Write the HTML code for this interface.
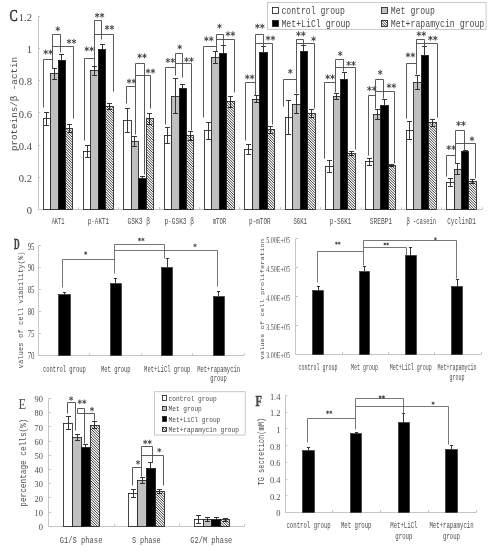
<!DOCTYPE html>
<html><head><meta charset="utf-8"><title>figure</title>
<style>html,body{margin:0;padding:0;background:#fff;}body{width:493px;height:550px;overflow:hidden;position:relative;}svg{display:block;font-family:"Liberation Mono", monospace;position:absolute;left:0;top:0;}#base{filter:blur(0.35px);}text{fill:#4c4c4c;}</style>
</head><body>
<svg id="base" width="493" height="550" viewBox="0 0 493 550">
<rect width="493" height="550" fill="#fff"/>
<g id="panelC">
<path d="M38.5 16.5L38.5 209.4" stroke="#c6c6c6" stroke-width="1"/>
<path d="M38 209.5L482.2 209.5" stroke="#c6c6c6" stroke-width="1"/>
<path d="M38 209.5L40.2 209.5" stroke="#c6c6c6" stroke-width="1"/>
<text font-size="10.5" textLength="5.3" lengthAdjust="spacingAndGlyphs" font-family='"Liberation Serif", serif' x="26.7" y="213.97">0</text>
<path d="M38 177.5L40.2 177.5" stroke="#c6c6c6" stroke-width="1"/>
<text font-size="10.5" textLength="13.25" lengthAdjust="spacingAndGlyphs" font-family='"Liberation Serif", serif' x="18.75" y="181.81">0.2</text>
<path d="M38 145.5L40.2 145.5" stroke="#c6c6c6" stroke-width="1"/>
<text font-size="10.5" textLength="13.25" lengthAdjust="spacingAndGlyphs" font-family='"Liberation Serif", serif' x="18.75" y="149.67">0.4</text>
<path d="M38 112.5L40.2 112.5" stroke="#c6c6c6" stroke-width="1"/>
<text font-size="10.5" textLength="13.25" lengthAdjust="spacingAndGlyphs" font-family='"Liberation Serif", serif' x="18.75" y="117.52">0.6</text>
<path d="M38 80.5L40.2 80.5" stroke="#c6c6c6" stroke-width="1"/>
<text font-size="10.5" textLength="13.25" lengthAdjust="spacingAndGlyphs" font-family='"Liberation Serif", serif' x="18.75" y="85.37">0.8</text>
<path d="M38 48.5L40.2 48.5" stroke="#c6c6c6" stroke-width="1"/>
<text font-size="10.5" textLength="5.3" lengthAdjust="spacingAndGlyphs" font-family='"Liberation Serif", serif' x="26.7" y="53.22">1</text>
<path d="M38 16.5L40.2 16.5" stroke="#c6c6c6" stroke-width="1"/>
<text font-size="10.5" textLength="13.25" lengthAdjust="spacingAndGlyphs" font-family='"Liberation Serif", serif' x="18.75" y="21.07">1.2</text>
<path d="M38.5 209.4L38.5 207.2" stroke="#c6c6c6" stroke-width="1"/>
<path d="M78.5 209.4L78.5 207.2" stroke="#c6c6c6" stroke-width="1"/>
<path d="M118.5 209.4L118.5 207.2" stroke="#c6c6c6" stroke-width="1"/>
<path d="M159.5 209.4L159.5 207.2" stroke="#c6c6c6" stroke-width="1"/>
<path d="M199.5 209.4L199.5 207.2" stroke="#c6c6c6" stroke-width="1"/>
<path d="M239.5 209.4L239.5 207.2" stroke="#c6c6c6" stroke-width="1"/>
<path d="M280.5 209.4L280.5 207.2" stroke="#c6c6c6" stroke-width="1"/>
<path d="M320.5 209.4L320.5 207.2" stroke="#c6c6c6" stroke-width="1"/>
<path d="M361.5 209.4L361.5 207.2" stroke="#c6c6c6" stroke-width="1"/>
<path d="M401.5 209.4L401.5 207.2" stroke="#c6c6c6" stroke-width="1"/>
<path d="M441.5 209.4L441.5 207.2" stroke="#c6c6c6" stroke-width="1"/>
<path d="M482.5 209.4L482.5 207.2" stroke="#c6c6c6" stroke-width="1"/>
<text font-size="16.5" textLength="8.2" lengthAdjust="spacingAndGlyphs" fill="#222" font-family='"Liberation Serif", serif' stroke="#222" stroke-width="0.55" x="9.5" y="20.75">C</text>
<text font-size="9.5" textLength="94" lengthAdjust="spacingAndGlyphs" fill="#5e5e5e" transform="translate(17.2 104) rotate(-90)" x="-47" y="0">proteins/&#946; -actin</text>
<rect x="43.5" y="118.5" width="7" height="91" fill="#fff" stroke="#1a1a1a" stroke-width="0.8"/>
<rect x="50.5" y="73.5" width="8" height="136" fill="#c0c0c0" stroke="#1a1a1a" stroke-width="0.8"/>
<rect x="58.5" y="60.5" width="7" height="149" fill="#000" stroke="#1a1a1a" stroke-width="0.8"/>
<rect x="65.5" y="128.5" width="7" height="81" fill="#fff"/>
<rect x="65.5" y="128.5" width="7" height="81" fill="none" stroke="#1a1a1a" stroke-width="0.8"/>
<path d="M46.5 112.5L46.5 125.5M44 112.5L49 112.5M44 125.5L49 125.5" stroke="#222" stroke-width="0.9" fill="none"/>
<path d="M54.5 68.5L54.5 79.5M52 68.5L57 68.5M52 79.5L57 79.5" stroke="#222" stroke-width="0.9" fill="none"/>
<path d="M61.5 54.5L61.5 60.3M59 54.5L64 54.5" stroke="#222" stroke-width="0.9" fill="none"/>
<path d="M69.5 124.5L69.5 132.5M67 124.5L72 124.5M67 132.5L72 132.5" stroke="#222" stroke-width="0.9" fill="none"/>
<text font-size="9" textLength="12.9" lengthAdjust="spacingAndGlyphs" fill="#686868" x="51.65" y="224.17">AKT1</text>
<rect x="83.5" y="151.5" width="7" height="58" fill="#fff" stroke="#1a1a1a" stroke-width="0.8"/>
<rect x="90.5" y="70.5" width="8" height="139" fill="#c0c0c0" stroke="#1a1a1a" stroke-width="0.8"/>
<rect x="98.5" y="49.5" width="7" height="160" fill="#000" stroke="#1a1a1a" stroke-width="0.8"/>
<rect x="105.5" y="106.5" width="8" height="103" fill="#fff"/>
<rect x="105.5" y="106.5" width="8" height="103" fill="none" stroke="#1a1a1a" stroke-width="0.8"/>
<path d="M87.5 145.5L87.5 157.5M85 145.5L90 145.5M85 157.5L90 157.5" stroke="#222" stroke-width="0.9" fill="none"/>
<path d="M94.5 66.5L94.5 75.5M92 66.5L97 66.5M92 75.5L97 75.5" stroke="#222" stroke-width="0.9" fill="none"/>
<path d="M102.5 44.5L102.5 49.4M100 44.5L105 44.5" stroke="#222" stroke-width="0.9" fill="none"/>
<path d="M109.5 103.5L109.5 109.5M107 103.5L112 103.5M107 109.5L112 109.5" stroke="#222" stroke-width="0.9" fill="none"/>
<text font-size="9" textLength="21.5" lengthAdjust="spacingAndGlyphs" fill="#686868" x="87.7" y="224.17">p-AKT1</text>
<rect x="123.5" y="120.5" width="8" height="89" fill="#fff" stroke="#1a1a1a" stroke-width="0.8"/>
<rect x="131.5" y="141.5" width="7" height="68" fill="#c0c0c0" stroke="#1a1a1a" stroke-width="0.8"/>
<rect x="138.5" y="178.5" width="8" height="31" fill="#000" stroke="#1a1a1a" stroke-width="0.8"/>
<rect x="146.5" y="118.5" width="7" height="91" fill="#fff"/>
<rect x="146.5" y="118.5" width="7" height="91" fill="none" stroke="#1a1a1a" stroke-width="0.8"/>
<path d="M127.5 108.5L127.5 132.5M125 108.5L130 108.5M125 132.5L130 132.5" stroke="#222" stroke-width="0.9" fill="none"/>
<path d="M134.5 136.5L134.5 146.5M132 136.5L137 136.5M132 146.5L137 146.5" stroke="#222" stroke-width="0.9" fill="none"/>
<path d="M142.5 176.5L142.5 178M140 176.5L145 176.5" stroke="#222" stroke-width="0.9" fill="none"/>
<path d="M149.5 113.5L149.5 124.5M147 113.5L152 113.5M147 124.5L152 124.5" stroke="#222" stroke-width="0.9" fill="none"/>
<text font-size="9" textLength="22.5" lengthAdjust="spacingAndGlyphs" fill="#686868" x="127.55" y="224.17">GSK3 &#946;</text>
<rect x="164.5" y="135.5" width="7" height="74" fill="#fff" stroke="#1a1a1a" stroke-width="0.8"/>
<rect x="171.5" y="96.5" width="8" height="113" fill="#c0c0c0" stroke="#1a1a1a" stroke-width="0.8"/>
<rect x="179.5" y="88.5" width="7" height="121" fill="#000" stroke="#1a1a1a" stroke-width="0.8"/>
<rect x="186.5" y="135.5" width="7" height="74" fill="#fff"/>
<rect x="186.5" y="135.5" width="7" height="74" fill="none" stroke="#1a1a1a" stroke-width="0.8"/>
<path d="M167.5 127.5L167.5 143.5M165 127.5L170 127.5M165 143.5L170 143.5" stroke="#222" stroke-width="0.9" fill="none"/>
<path d="M175.5 78.5L175.5 113.5M173 78.5L178 78.5M173 113.5L178 113.5" stroke="#222" stroke-width="0.9" fill="none"/>
<path d="M182.5 84.5L182.5 88.7M180 84.5L185 84.5" stroke="#222" stroke-width="0.9" fill="none"/>
<path d="M190.5 131.5L190.5 140.5M188 131.5L193 131.5M188 140.5L193 140.5" stroke="#222" stroke-width="0.9" fill="none"/>
<text font-size="9" textLength="29.5" lengthAdjust="spacingAndGlyphs" fill="#686868" x="164.4" y="224.17">p-GSK3 &#946;</text>
<rect x="204.5" y="130.5" width="7" height="79" fill="#fff" stroke="#1a1a1a" stroke-width="0.8"/>
<rect x="211.5" y="57.5" width="8" height="152" fill="#c0c0c0" stroke="#1a1a1a" stroke-width="0.8"/>
<rect x="219.5" y="53.5" width="7" height="156" fill="#000" stroke="#1a1a1a" stroke-width="0.8"/>
<rect x="226.5" y="101.5" width="8" height="108" fill="#fff"/>
<rect x="226.5" y="101.5" width="8" height="108" fill="none" stroke="#1a1a1a" stroke-width="0.8"/>
<path d="M208.5 122.5L208.5 139.5M206 122.5L211 122.5M206 139.5L211 139.5" stroke="#222" stroke-width="0.9" fill="none"/>
<path d="M215.5 51.5L215.5 63.5M213 51.5L218 51.5M213 63.5L218 63.5" stroke="#222" stroke-width="0.9" fill="none"/>
<path d="M223.5 45.5L223.5 53.2M221 45.5L226 45.5" stroke="#222" stroke-width="0.9" fill="none"/>
<path d="M230.5 96.5L230.5 107.5M228 96.5L233 96.5M228 107.5L233 107.5" stroke="#222" stroke-width="0.9" fill="none"/>
<text font-size="9" textLength="13.5" lengthAdjust="spacingAndGlyphs" fill="#686868" x="212.75" y="224.17">mTOR</text>
<rect x="244.5" y="149.5" width="8" height="60" fill="#fff" stroke="#1a1a1a" stroke-width="0.8"/>
<rect x="252.5" y="99.5" width="7" height="110" fill="#c0c0c0" stroke="#1a1a1a" stroke-width="0.8"/>
<rect x="259.5" y="52.5" width="8" height="157" fill="#000" stroke="#1a1a1a" stroke-width="0.8"/>
<rect x="267.5" y="129.5" width="7" height="80" fill="#fff"/>
<rect x="267.5" y="129.5" width="7" height="80" fill="none" stroke="#1a1a1a" stroke-width="0.8"/>
<path d="M248.5 144.5L248.5 154.5M246 144.5L251 144.5M246 154.5L251 154.5" stroke="#222" stroke-width="0.9" fill="none"/>
<path d="M256.5 95.5L256.5 102.5M254 95.5L259 95.5M254 102.5L259 102.5" stroke="#222" stroke-width="0.9" fill="none"/>
<path d="M263.5 46.5L263.5 52.5M261 46.5L266 46.5" stroke="#222" stroke-width="0.9" fill="none"/>
<path d="M270.5 126.5L270.5 133.5M268 126.5L273 126.5M268 133.5L273 133.5" stroke="#222" stroke-width="0.9" fill="none"/>
<text font-size="9" textLength="21.5" lengthAdjust="spacingAndGlyphs" fill="#686868" x="249.1" y="224.17">p-mTOR</text>
<rect x="285.5" y="117.5" width="7" height="92" fill="#fff" stroke="#1a1a1a" stroke-width="0.8"/>
<rect x="292.5" y="104.5" width="8" height="105" fill="#c0c0c0" stroke="#1a1a1a" stroke-width="0.8"/>
<rect x="300.5" y="51.5" width="7" height="158" fill="#000" stroke="#1a1a1a" stroke-width="0.8"/>
<rect x="307.5" y="113.5" width="8" height="96" fill="#fff"/>
<rect x="307.5" y="113.5" width="8" height="96" fill="none" stroke="#1a1a1a" stroke-width="0.8"/>
<path d="M288.5 100.5L288.5 134.5M286 100.5L291 100.5M286 134.5L291 134.5" stroke="#222" stroke-width="0.9" fill="none"/>
<path d="M296.5 94.5L296.5 113.5M294 94.5L299 94.5M294 113.5L299 113.5" stroke="#222" stroke-width="0.9" fill="none"/>
<path d="M303.5 45.5L303.5 51.5M301 45.5L306 45.5" stroke="#222" stroke-width="0.9" fill="none"/>
<path d="M311.5 109.5L311.5 117.5M309 109.5L314 109.5M309 117.5L314 117.5" stroke="#222" stroke-width="0.9" fill="none"/>
<text font-size="9" textLength="13.5" lengthAdjust="spacingAndGlyphs" fill="#686868" x="293.45" y="224.17">S6K1</text>
<rect x="325.5" y="166.5" width="8" height="43" fill="#fff" stroke="#1a1a1a" stroke-width="0.8"/>
<rect x="333.5" y="96.5" width="7" height="113" fill="#c0c0c0" stroke="#1a1a1a" stroke-width="0.8"/>
<rect x="340.5" y="79.5" width="7" height="130" fill="#000" stroke="#1a1a1a" stroke-width="0.8"/>
<rect x="347.5" y="153.5" width="8" height="56" fill="#fff"/>
<rect x="347.5" y="153.5" width="8" height="56" fill="none" stroke="#1a1a1a" stroke-width="0.8"/>
<path d="M329.5 160.5L329.5 172.5M327 160.5L332 160.5M327 172.5L332 172.5" stroke="#222" stroke-width="0.9" fill="none"/>
<path d="M336.5 93.5L336.5 99.5M334 93.5L339 93.5M334 99.5L339 99.5" stroke="#222" stroke-width="0.9" fill="none"/>
<path d="M344.5 72.5L344.5 79.4M342 72.5L347 72.5" stroke="#222" stroke-width="0.9" fill="none"/>
<path d="M351.5 151.5L351.5 155.5M349 151.5L354 151.5M349 155.5L354 155.5" stroke="#222" stroke-width="0.9" fill="none"/>
<text font-size="9" textLength="21.5" lengthAdjust="spacingAndGlyphs" fill="#686868" x="329.8" y="224.17">p-S6K1</text>
<rect x="365.5" y="161.5" width="8" height="48" fill="#fff" stroke="#1a1a1a" stroke-width="0.8"/>
<rect x="373.5" y="114.5" width="7" height="95" fill="#c0c0c0" stroke="#1a1a1a" stroke-width="0.8"/>
<rect x="380.5" y="105.5" width="8" height="104" fill="#000" stroke="#1a1a1a" stroke-width="0.8"/>
<rect x="388.5" y="165.5" width="7" height="44" fill="#fff"/>
<rect x="388.5" y="165.5" width="7" height="44" fill="none" stroke="#1a1a1a" stroke-width="0.8"/>
<path d="M369.5 158.5L369.5 165.5M367 158.5L372 158.5M367 165.5L372 165.5" stroke="#222" stroke-width="0.9" fill="none"/>
<path d="M377.5 109.5L377.5 119.5M375 109.5L380 109.5M375 119.5L380 119.5" stroke="#222" stroke-width="0.9" fill="none"/>
<path d="M384.5 99.5L384.5 105M382 99.5L387 99.5" stroke="#222" stroke-width="0.9" fill="none"/>
<path d="M391.5 164.5L391.5 166.5M389 164.5L394 164.5M389 166.5L394 166.5" stroke="#222" stroke-width="0.9" fill="none"/>
<text font-size="9" textLength="22.3" lengthAdjust="spacingAndGlyphs" fill="#686868" x="369.75" y="224.17">SREBP1</text>
<rect x="406.5" y="130.5" width="7" height="79" fill="#fff" stroke="#1a1a1a" stroke-width="0.8"/>
<rect x="413.5" y="82.5" width="8" height="127" fill="#c0c0c0" stroke="#1a1a1a" stroke-width="0.8"/>
<rect x="421.5" y="55.5" width="7" height="154" fill="#000" stroke="#1a1a1a" stroke-width="0.8"/>
<rect x="428.5" y="122.5" width="8" height="87" fill="#fff"/>
<rect x="428.5" y="122.5" width="8" height="87" fill="none" stroke="#1a1a1a" stroke-width="0.8"/>
<path d="M409.5 121.5L409.5 139.5M407 121.5L412 121.5M407 139.5L412 139.5" stroke="#222" stroke-width="0.9" fill="none"/>
<path d="M417.5 75.5L417.5 89.5M415 75.5L420 75.5M415 89.5L420 89.5" stroke="#222" stroke-width="0.9" fill="none"/>
<path d="M424.5 46.5L424.5 55.4M422 46.5L427 46.5" stroke="#222" stroke-width="0.9" fill="none"/>
<path d="M432.5 119.5L432.5 126.5M430 119.5L435 119.5M430 126.5L435 126.5" stroke="#222" stroke-width="0.9" fill="none"/>
<text font-size="9" textLength="29.7" lengthAdjust="spacingAndGlyphs" fill="#686868" x="406.4" y="224.17">&#946; -casein</text>
<rect x="446.5" y="182.5" width="8" height="27" fill="#fff" stroke="#1a1a1a" stroke-width="0.8"/>
<rect x="454.5" y="169.5" width="7" height="40" fill="#c0c0c0" stroke="#1a1a1a" stroke-width="0.8"/>
<rect x="461.5" y="151.5" width="7" height="58" fill="#000" stroke="#1a1a1a" stroke-width="0.8"/>
<rect x="468.5" y="181.5" width="8" height="28" fill="#fff"/>
<rect x="468.5" y="181.5" width="8" height="28" fill="none" stroke="#1a1a1a" stroke-width="0.8"/>
<path d="M450.5 178.5L450.5 186.5M448 178.5L453 178.5M448 186.5L453 186.5" stroke="#222" stroke-width="0.9" fill="none"/>
<path d="M457.5 163.5L457.5 174.5M455 163.5L460 163.5M455 174.5L460 174.5" stroke="#222" stroke-width="0.9" fill="none"/>
<path d="M465.5 150.5L465.5 151.8M463 150.5L468 150.5" stroke="#222" stroke-width="0.9" fill="none"/>
<path d="M472.5 179.5L472.5 183.5M470 179.5L475 179.5M470 183.5L475 183.5" stroke="#222" stroke-width="0.9" fill="none"/>
<text font-size="9" textLength="28.7" lengthAdjust="spacingAndGlyphs" fill="#686868" x="447.25" y="224.17">CyclinD1</text>
<path d="M43.5 107.5L43.5 59.5L52.5 59.5" stroke="#484848" stroke-width="0.9" fill="none"/>
<path d="M52.5 68.5L52.5 34.5L60.5 34.5L60.5 52.5" stroke="#484848" stroke-width="0.9" fill="none"/>
<path d="M52.5 46.5L73.5 46.5L73.5 118.5" stroke="#484848" stroke-width="0.9" fill="none"/>
<path d="M84.5 140.5L84.5 58.5L94.5 58.5" stroke="#484848" stroke-width="0.9" fill="none"/>
<path d="M94.5 66.5L94.5 20.5L101.5 20.5L101.5 39.5" stroke="#484848" stroke-width="0.9" fill="none"/>
<path d="M94.5 34.5L113.5 34.5L113.5 91.5" stroke="#484848" stroke-width="0.9" fill="none"/>
<path d="M126.5 103.5L126.5 86.5L135.5 86.5" stroke="#484848" stroke-width="0.9" fill="none"/>
<path d="M135.5 134.5L135.5 63.5L144.5 63.5L144.5 174.5" stroke="#484848" stroke-width="0.9" fill="none"/>
<path d="M135.5 75.5L150.5 75.5L150.5 108.5" stroke="#484848" stroke-width="0.9" fill="none"/>
<path d="M165.5 124.5L165.5 67.5L175.5 67.5" stroke="#484848" stroke-width="0.9" fill="none"/>
<path d="M175.5 75.5L175.5 53.5L182.5 53.5L182.5 77.5" stroke="#484848" stroke-width="0.9" fill="none"/>
<path d="M175.5 63.5L191.5 63.5L191.5 130.5" stroke="#484848" stroke-width="0.9" fill="none"/>
<path d="M203.5 117.5L203.5 46.5L216.5 46.5" stroke="#484848" stroke-width="0.9" fill="none"/>
<path d="M216.5 51.5L216.5 34.5L223.5 34.5L223.5 45.5" stroke="#484848" stroke-width="0.9" fill="none"/>
<path d="M216.5 39.5L234.5 39.5L234.5 92.5" stroke="#484848" stroke-width="0.9" fill="none"/>
<path d="M245.5 140.5L245.5 82.5L255.5 82.5" stroke="#484848" stroke-width="0.9" fill="none"/>
<path d="M255.5 95.5L255.5 34.5L263.5 34.5L263.5 46.5" stroke="#484848" stroke-width="0.9" fill="none"/>
<path d="M255.5 43.5L272.5 43.5L272.5 124.5" stroke="#484848" stroke-width="0.9" fill="none"/>
<path d="M283.5 106.5L283.5 79.5L296.5 79.5" stroke="#484848" stroke-width="0.9" fill="none"/>
<path d="M296.5 93.5L296.5 39.5L303.5 39.5L303.5 45.5" stroke="#484848" stroke-width="0.9" fill="none"/>
<path d="M296.5 43.5L314.5 43.5L314.5 108.5" stroke="#484848" stroke-width="0.9" fill="none"/>
<path d="M324.5 158.5L324.5 82.5L335.5 82.5" stroke="#484848" stroke-width="0.9" fill="none"/>
<path d="M335.5 92.5L335.5 59.5L343.5 59.5L343.5 71.5" stroke="#484848" stroke-width="0.9" fill="none"/>
<path d="M335.5 67.5L355.5 67.5L355.5 149.5" stroke="#484848" stroke-width="0.9" fill="none"/>
<path d="M368.5 155.5L368.5 95.5L375.5 95.5" stroke="#484848" stroke-width="0.9" fill="none"/>
<path d="M375.5 108.5L375.5 79.5L383.5 79.5L383.5 98.5" stroke="#484848" stroke-width="0.9" fill="none"/>
<path d="M375.5 91.5L394.5 91.5L394.5 163.5" stroke="#484848" stroke-width="0.9" fill="none"/>
<path d="M406.5 118.5L406.5 63.5L416.5 63.5" stroke="#484848" stroke-width="0.9" fill="none"/>
<path d="M416.5 74.5L416.5 39.5L424.5 39.5L424.5 46.5" stroke="#484848" stroke-width="0.9" fill="none"/>
<path d="M416.5 43.5L437.5 43.5L437.5 117.5" stroke="#484848" stroke-width="0.9" fill="none"/>
<path d="M446.5 176.5L446.5 155.5L455.5 155.5" stroke="#484848" stroke-width="0.9" fill="none"/>
<path d="M455.5 163.5L455.5 130.5L464.5 130.5L464.5 150.5" stroke="#484848" stroke-width="0.9" fill="none"/>
<path d="M455.5 143.5L475.5 143.5L475.5 178.5" stroke="#484848" stroke-width="0.9" fill="none"/>
<path d="M57.8 26.35L57.8 31.25M55.68 27.57L59.92 30.03M59.92 27.57L55.68 30.03" stroke="#464646" stroke-width="0.98" fill="none"/>
<path d="M69.05 38.95L69.05 43.85M66.93 40.17L71.17 42.62M71.17 40.17L66.93 42.62M73.95 38.95L73.95 43.85M71.83 40.17L76.07 42.62M76.07 40.17L71.83 42.62" stroke="#464646" stroke-width="0.98" fill="none"/>
<path d="M45.75 49.65L45.75 54.55M43.63 50.88L47.87 53.33M47.87 50.88L43.63 53.33M50.65 49.65L50.65 54.55M48.53 50.88L52.77 53.33M52.77 50.88L48.53 53.33" stroke="#464646" stroke-width="0.98" fill="none"/>
<path d="M97.15 12.85L97.15 17.75M95.03 14.07L99.27 16.52M99.27 14.07L95.03 16.52M102.05 12.85L102.05 17.75M99.93 14.07L104.17 16.52M104.17 14.07L99.93 16.52" stroke="#464646" stroke-width="0.98" fill="none"/>
<path d="M107.05 25.05L107.05 29.95M104.93 26.27L109.17 28.73M109.17 26.27L104.93 28.73M111.95 25.05L111.95 29.95M109.83 26.27L114.07 28.73M114.07 26.27L109.83 28.73" stroke="#464646" stroke-width="0.98" fill="none"/>
<path d="M86.75 46.55L86.75 51.45M84.63 47.77L88.87 50.23M88.87 47.77L84.63 50.23M91.65 46.55L91.65 51.45M89.53 47.77L93.77 50.23M93.77 47.77L89.53 50.23" stroke="#464646" stroke-width="0.98" fill="none"/>
<path d="M139.65 53.45L139.65 58.35M137.53 54.67L141.77 57.12M141.77 54.67L137.53 57.12M144.55 53.45L144.55 58.35M142.43 54.67L146.67 57.12M146.67 54.67L142.43 57.12" stroke="#464646" stroke-width="0.98" fill="none"/>
<path d="M148.05 68.65L148.05 73.55M145.93 69.88L150.17 72.32M150.17 69.88L145.93 72.32M152.95 68.65L152.95 73.55M150.83 69.88L155.07 72.32M155.07 69.88L150.83 72.32" stroke="#464646" stroke-width="0.98" fill="none"/>
<path d="M129.05 78.75L129.05 83.65M126.93 79.97L131.17 82.42M131.17 79.97L126.93 82.42M133.95 78.75L133.95 83.65M131.83 79.97L136.07 82.42M136.07 79.97L131.83 82.42" stroke="#464646" stroke-width="0.98" fill="none"/>
<path d="M179.7 44.55L179.7 49.45M177.58 45.77L181.82 48.23M181.82 45.77L177.58 48.23" stroke="#464646" stroke-width="0.98" fill="none"/>
<path d="M186.55 57.25L186.55 62.15M184.43 58.48L188.67 60.93M188.67 58.48L184.43 60.93M191.45 57.25L191.45 62.15M189.33 58.48L193.57 60.93M193.57 58.48L189.33 60.93" stroke="#464646" stroke-width="0.98" fill="none"/>
<path d="M167.85 58.05L167.85 62.95M165.73 59.27L169.97 61.73M169.97 59.27L165.73 61.73M172.75 58.05L172.75 62.95M170.63 59.27L174.87 61.73M174.87 59.27L170.63 61.73" stroke="#464646" stroke-width="0.98" fill="none"/>
<path d="M219.5 23.75L219.5 28.65M217.38 24.98L221.62 27.43M221.62 24.98L217.38 27.43" stroke="#464646" stroke-width="0.98" fill="none"/>
<path d="M227.95 31.35L227.95 36.25M225.83 32.58L230.07 35.03M230.07 32.58L225.83 35.03M232.85 31.35L232.85 36.25M230.73 32.58L234.97 35.03M234.97 32.58L230.73 35.03" stroke="#464646" stroke-width="0.98" fill="none"/>
<path d="M206.35 36.45L206.35 41.35M204.23 37.67L208.47 40.12M208.47 37.67L204.23 40.12M211.25 36.45L211.25 41.35M209.13 37.67L213.37 40.12M213.37 37.67L209.13 40.12" stroke="#464646" stroke-width="0.98" fill="none"/>
<path d="M257.35 23.75L257.35 28.65M255.23 24.98L259.47 27.43M259.47 24.98L255.23 27.43M262.25 23.75L262.25 28.65M260.13 24.98L264.37 27.43M264.37 24.98L260.13 27.43" stroke="#464646" stroke-width="0.98" fill="none"/>
<path d="M268.05 35.65L268.05 40.55M265.93 36.88L270.17 39.33M270.17 36.88L265.93 39.33M272.95 35.65L272.95 40.55M270.83 36.88L275.07 39.33M275.07 36.88L270.83 39.33" stroke="#464646" stroke-width="0.98" fill="none"/>
<path d="M247.25 74.45L247.25 79.35M245.13 75.67L249.37 78.12M249.37 75.67L245.13 78.12M252.15 74.45L252.15 79.35M250.03 75.67L254.27 78.12M254.27 75.67L250.03 78.12" stroke="#464646" stroke-width="0.98" fill="none"/>
<path d="M298.45 31.35L298.45 36.25M296.33 32.58L300.57 35.03M300.57 32.58L296.33 35.03M303.35 31.35L303.35 36.25M301.23 32.58L305.47 35.03M305.47 32.58L301.23 35.03" stroke="#464646" stroke-width="0.98" fill="none"/>
<path d="M313.6 36.45L313.6 41.35M311.48 37.67L315.72 40.12M315.72 37.67L311.48 40.12" stroke="#464646" stroke-width="0.98" fill="none"/>
<path d="M290.3 68.95L290.3 73.85M288.18 70.17L292.42 72.62M292.42 70.17L288.18 72.62" stroke="#464646" stroke-width="0.98" fill="none"/>
<path d="M340.2 51.15L340.2 56.05M338.08 52.38L342.32 54.83M342.32 52.38L338.08 54.83" stroke="#464646" stroke-width="0.98" fill="none"/>
<path d="M348.65 61.05L348.65 65.95M346.53 62.27L350.77 64.72M350.77 62.27L346.53 64.72M353.55 61.05L353.55 65.95M351.43 62.27L355.67 64.72M355.67 62.27L351.43 64.72" stroke="#464646" stroke-width="0.98" fill="none"/>
<path d="M327.65 74.45L327.65 79.35M325.53 75.67L329.77 78.12M329.77 75.67L325.53 78.12M332.55 74.45L332.55 79.35M330.43 75.67L334.67 78.12M334.67 75.67L330.43 78.12" stroke="#464646" stroke-width="0.98" fill="none"/>
<path d="M380.2 69.95L380.2 74.85M378.08 71.17L382.32 73.62M382.32 71.17L378.08 73.62" stroke="#464646" stroke-width="0.98" fill="none"/>
<path d="M388.95 83.35L388.95 88.25M386.83 84.58L391.07 87.02M391.07 84.58L386.83 87.02M393.85 83.35L393.85 88.25M391.73 84.58L395.97 87.02M395.97 84.58L391.73 87.02" stroke="#464646" stroke-width="0.98" fill="none"/>
<path d="M369.35 86.15L369.35 91.05M367.23 87.38L371.47 89.82M371.47 87.38L367.23 89.82M374.25 86.15L374.25 91.05M372.13 87.38L376.37 89.82M376.37 87.38L372.13 89.82" stroke="#464646" stroke-width="0.98" fill="none"/>
<path d="M418.85 31.35L418.85 36.25M416.73 32.58L420.97 35.03M420.97 32.58L416.73 35.03M423.75 31.35L423.75 36.25M421.63 32.58L425.87 35.03M425.87 32.58L421.63 35.03" stroke="#464646" stroke-width="0.98" fill="none"/>
<path d="M430.35 35.75L430.35 40.65M428.23 36.98L432.47 39.43M432.47 36.98L428.23 39.43M435.25 35.75L435.25 40.65M433.13 36.98L437.37 39.43M437.37 36.98L433.13 39.43" stroke="#464646" stroke-width="0.98" fill="none"/>
<path d="M407.95 52.55L407.95 57.45M405.83 53.77L410.07 56.23M410.07 53.77L405.83 56.23M412.85 52.55L412.85 57.45M410.73 53.77L414.97 56.23M414.97 53.77L410.73 56.23" stroke="#464646" stroke-width="0.98" fill="none"/>
<path d="M458.55 121.15L458.55 126.05M456.43 122.38L460.67 124.82M460.67 122.38L456.43 124.82M463.45 121.15L463.45 126.05M461.33 122.38L465.57 124.82M465.57 122.38L461.33 124.82" stroke="#464646" stroke-width="0.98" fill="none"/>
<path d="M472 136.35L472 141.25M469.88 137.57L474.12 140.02M474.12 137.57L469.88 140.02" stroke="#464646" stroke-width="0.98" fill="none"/>
<path d="M448.75 145.15L448.75 150.05M446.63 146.38L450.87 148.82M450.87 146.38L446.63 148.82M453.65 145.15L453.65 150.05M451.53 146.38L455.77 148.82M455.77 146.38L451.53 148.82" stroke="#464646" stroke-width="0.98" fill="none"/>
<rect x="267.5" y="2.4" width="218.6" height="27" fill="#fff" stroke="#c4c4c4" stroke-width="0.9"/>
<rect x="272.5" y="7.5" width="6" height="6" fill="#fff" stroke="#1a1a1a" stroke-width="0.8"/>
<text font-size="10" textLength="63.44" lengthAdjust="spacingAndGlyphs" x="281.4" y="14.1">control group</text>
<rect x="272.5" y="20.5" width="6" height="6" fill="#000" stroke="#1a1a1a" stroke-width="0.8"/>
<text font-size="10" textLength="68.88" lengthAdjust="spacingAndGlyphs" x="281.4" y="27.1">Met+LiCl group</text>
<rect x="381.5" y="7.5" width="6" height="6" fill="#c0c0c0" stroke="#1a1a1a" stroke-width="0.8"/>
<text font-size="10" textLength="44.1" lengthAdjust="spacingAndGlyphs" x="390.8" y="14.1">Met group</text>
<rect x="381.5" y="20.5" width="6" height="6" fill="#fff"/>
<rect x="381.5" y="20.5" width="6" height="6" fill="none" stroke="#1a1a1a" stroke-width="0.8"/>
<text font-size="10" textLength="93.48" lengthAdjust="spacingAndGlyphs" x="390.8" y="27.1">Met+rapamycin group</text>
</g>
<g id="panelD1">
<path d="M38.5 245.7L38.5 355.4" stroke="#c6c6c6" stroke-width="1"/>
<path d="M38.5 355.5L244.1 355.5" stroke="#c6c6c6" stroke-width="1"/>
<path d="M38.5 245.5L40.9 245.5" stroke="#c6c6c6" stroke-width="1"/>
<text font-size="10" textLength="6.8" lengthAdjust="spacingAndGlyphs" font-family='"Liberation Serif", serif' x="27.7" y="249.6">95</text>
<path d="M38.5 267.5L40.9 267.5" stroke="#c6c6c6" stroke-width="1"/>
<text font-size="10" textLength="6.8" lengthAdjust="spacingAndGlyphs" font-family='"Liberation Serif", serif' x="27.7" y="271.2">90</text>
<path d="M38.5 289.5L40.9 289.5" stroke="#c6c6c6" stroke-width="1"/>
<text font-size="10" textLength="6.8" lengthAdjust="spacingAndGlyphs" font-family='"Liberation Serif", serif' x="27.7" y="293.2">85</text>
<path d="M38.5 311.5L40.9 311.5" stroke="#c6c6c6" stroke-width="1"/>
<text font-size="10" textLength="6.8" lengthAdjust="spacingAndGlyphs" font-family='"Liberation Serif", serif' x="27.7" y="315.3">80</text>
<path d="M38.5 333.5L40.9 333.5" stroke="#c6c6c6" stroke-width="1"/>
<text font-size="10" textLength="6.8" lengthAdjust="spacingAndGlyphs" font-family='"Liberation Serif", serif' x="27.7" y="337.3">75</text>
<path d="M38.5 355.5L40.9 355.5" stroke="#c6c6c6" stroke-width="1"/>
<text font-size="10" textLength="6.8" lengthAdjust="spacingAndGlyphs" font-family='"Liberation Serif", serif' x="27.7" y="359.3">70</text>
<path d="M38.5 355.4L38.5 353.2" stroke="#c6c6c6" stroke-width="1"/>
<path d="M89.5 355.4L89.5 353.2" stroke="#c6c6c6" stroke-width="1"/>
<path d="M141.5 355.4L141.5 353.2" stroke="#c6c6c6" stroke-width="1"/>
<path d="M192.5 355.4L192.5 353.2" stroke="#c6c6c6" stroke-width="1"/>
<path d="M244.5 355.4L244.5 353.2" stroke="#c6c6c6" stroke-width="1"/>
<rect x="58.5" y="294.5" width="12" height="61" fill="#000" stroke="#1a1a1a" stroke-width="0.5"/>
<path d="M64.5 292.5L64.5 294.9M62.9 292.5L66.1 292.5" stroke="#222" stroke-width="0.9" fill="none"/>
<rect x="110.5" y="283.5" width="11" height="72" fill="#000" stroke="#1a1a1a" stroke-width="0.5"/>
<path d="M115.5 278.5L115.5 283.2M113.9 278.5L117.1 278.5" stroke="#222" stroke-width="0.9" fill="none"/>
<rect x="161.5" y="267.5" width="11" height="88" fill="#000" stroke="#1a1a1a" stroke-width="0.5"/>
<path d="M167.5 258.5L167.5 267.1M165.9 258.5L169.1 258.5" stroke="#222" stroke-width="0.9" fill="none"/>
<rect x="213.5" y="296.5" width="11" height="59" fill="#000" stroke="#1a1a1a" stroke-width="0.5"/>
<path d="M218.5 291.5L218.5 296.3M216.9 291.5L220.1 291.5" stroke="#222" stroke-width="0.9" fill="none"/>
<text font-size="9" textLength="42.9" lengthAdjust="spacingAndGlyphs" fill="#686868" x="42.95" y="371.77">control group</text>
<text font-size="9" textLength="29.7" lengthAdjust="spacingAndGlyphs" fill="#686868" x="100.95" y="371.77">Met group</text>
<text font-size="9" textLength="46.2" lengthAdjust="spacingAndGlyphs" fill="#686868" x="144.1" y="371.77">Met+LiCl group</text>
<text font-size="9" textLength="42.9" lengthAdjust="spacingAndGlyphs" fill="#686868" x="197.15" y="371.77">Met+rapamycin</text>
<text font-size="9" textLength="16.5" lengthAdjust="spacingAndGlyphs" fill="#686868" x="210.35" y="381.27">group</text>
<text font-size="8" textLength="117" lengthAdjust="spacingAndGlyphs" fill="#666" transform="translate(22.6 309.9) rotate(-90)" x="-58.5" y="0">values of cell viability(%)</text>
<text font-size="14" textLength="5.6" lengthAdjust="spacingAndGlyphs" fill="#222" font-weight="bold" font-family='"Liberation Serif", serif' stroke="#222" stroke-width="0.35" x="14.1" y="248.82">D</text>
<path d="M62.5 287.5L62.5 259.5L114.5 259.5" stroke="#555" stroke-width="0.8" fill="none"/>
<path d="M114.5 273.5L114.5 244.5L164.5 244.5L164.5 258.5" stroke="#555" stroke-width="0.8" fill="none"/>
<path d="M114.5 250.5L217.5 250.5L217.5 286.5" stroke="#555" stroke-width="0.8" fill="none"/>
<path d="M85.7 251.5L85.7 254.9M84.23 252.35L87.17 254.05M87.17 252.35L84.23 254.05" stroke="#3a3a3a" stroke-width="0.8" fill="none"/>
<path d="M139.5 237.8L139.5 241.2M138.03 238.65L140.97 240.35M140.97 238.65L138.03 240.35M142.9 237.8L142.9 241.2M141.43 238.65L144.37 240.35M144.37 238.65L141.43 240.35" stroke="#3a3a3a" stroke-width="0.8" fill="none"/>
<path d="M195 243.7L195 247.1M193.53 244.55L196.47 246.25M196.47 244.55L193.53 246.25" stroke="#3a3a3a" stroke-width="0.8" fill="none"/>
</g>
<g id="panelD2">
<path d="M295.5 238.9L295.5 354.2" stroke="#c6c6c6" stroke-width="1"/>
<path d="M295.6 354.5L481.4 354.5" stroke="#c6c6c6" stroke-width="1"/>
<path d="M295.6 238.5L298 238.5" stroke="#c6c6c6" stroke-width="1"/>
<text font-size="8.8" textLength="23.55" lengthAdjust="spacingAndGlyphs" fill="#686868" font-family='"Liberation Serif", serif' x="266.35" y="243.1">5.00E+05</text>
<path d="M295.6 267.5L298 267.5" stroke="#c6c6c6" stroke-width="1"/>
<text font-size="8.8" textLength="23.55" lengthAdjust="spacingAndGlyphs" fill="#686868" font-family='"Liberation Serif", serif' x="266.35" y="272.1">4.50E+05</text>
<path d="M295.6 296.5L298 296.5" stroke="#c6c6c6" stroke-width="1"/>
<text font-size="8.8" textLength="23.55" lengthAdjust="spacingAndGlyphs" fill="#686868" font-family='"Liberation Serif", serif' x="266.35" y="300.9">4.00E+05</text>
<path d="M295.6 325.5L298 325.5" stroke="#c6c6c6" stroke-width="1"/>
<text font-size="8.8" textLength="23.55" lengthAdjust="spacingAndGlyphs" fill="#686868" font-family='"Liberation Serif", serif' x="266.35" y="329.7">3.50E+05</text>
<path d="M295.6 354.5L298 354.5" stroke="#c6c6c6" stroke-width="1"/>
<text font-size="8.8" textLength="23.55" lengthAdjust="spacingAndGlyphs" fill="#686868" font-family='"Liberation Serif", serif' x="266.35" y="358.4">3.00E+05</text>
<path d="M295.5 354.2L295.5 352" stroke="#c6c6c6" stroke-width="1"/>
<path d="M342.5 354.2L342.5 352" stroke="#c6c6c6" stroke-width="1"/>
<path d="M388.5 354.2L388.5 352" stroke="#c6c6c6" stroke-width="1"/>
<path d="M434.5 354.2L434.5 352" stroke="#c6c6c6" stroke-width="1"/>
<path d="M481.5 354.2L481.5 352" stroke="#c6c6c6" stroke-width="1"/>
<rect x="312.5" y="290.5" width="11" height="64" fill="#000" stroke="#1a1a1a" stroke-width="0.5"/>
<path d="M318.5 286.5L318.5 290.3M316.9 286.5L320.1 286.5" stroke="#222" stroke-width="0.9" fill="none"/>
<rect x="359.5" y="271.5" width="10" height="83" fill="#000" stroke="#1a1a1a" stroke-width="0.5"/>
<path d="M364.5 266.5L364.5 271.1M362.9 266.5L366.1 266.5" stroke="#222" stroke-width="0.9" fill="none"/>
<rect x="405.5" y="255.5" width="11" height="99" fill="#000" stroke="#1a1a1a" stroke-width="0.5"/>
<path d="M410.5 247.5L410.5 255.9M408.9 247.5L412.1 247.5" stroke="#222" stroke-width="0.9" fill="none"/>
<rect x="451.5" y="286.5" width="11" height="68" fill="#000" stroke="#1a1a1a" stroke-width="0.5"/>
<path d="M457.5 279.5L457.5 286.3M455.9 279.5L459.1 279.5" stroke="#222" stroke-width="0.9" fill="none"/>
<text font-size="8.5" textLength="39" lengthAdjust="spacingAndGlyphs" fill="#686868" x="298.6" y="370.31">control group</text>
<text font-size="8.5" textLength="27" lengthAdjust="spacingAndGlyphs" fill="#686868" x="350.9" y="370.31">Met group</text>
<text font-size="8.5" textLength="42" lengthAdjust="spacingAndGlyphs" fill="#686868" x="389.7" y="370.31">Met+LiCl group</text>
<text font-size="8.5" textLength="39" lengthAdjust="spacingAndGlyphs" fill="#686868" x="437.5" y="370.31">Met+rapamycin</text>
<text font-size="8.5" textLength="15" lengthAdjust="spacingAndGlyphs" fill="#686868" x="449.5" y="379.81">group</text>
<text font-size="6.2" textLength="120.8" lengthAdjust="spacingAndGlyphs" fill="#666" transform="translate(264.1 299.3) rotate(-90)" x="-60.4" y="0">values of cell proliferation</text>
<path d="M317.5 282.5L317.5 251.5L363.5 251.5" stroke="#555" stroke-width="0.8" fill="none"/>
<path d="M363.5 265.5L363.5 240.5L456.5 240.5L456.5 278.5" stroke="#555" stroke-width="0.8" fill="none"/>
<path d="M363.5 247.5L406.5 247.5L406.5 255.5" stroke="#555" stroke-width="0.8" fill="none"/>
<path d="M336.4 241.8L336.4 244.6M335.19 242.5L337.61 243.9M337.61 242.5L335.19 243.9M339.2 241.8L339.2 244.6M337.99 242.5L340.41 243.9M340.41 242.5L337.99 243.9" stroke="#3a3a3a" stroke-width="0.8" fill="none"/>
<path d="M384.8 242.6L384.8 245.4M383.59 243.3L386.01 244.7M386.01 243.3L383.59 244.7M387.6 242.6L387.6 245.4M386.39 243.3L388.81 244.7M388.81 243.3L386.39 244.7" stroke="#3a3a3a" stroke-width="0.8" fill="none"/>
<path d="M435.4 237.4L435.4 240.2M434.19 238.1L436.61 239.5M436.61 238.1L434.19 239.5" stroke="#3a3a3a" stroke-width="0.8" fill="none"/>
</g>
<g id="panelF">
<path d="M285.5 395.6L285.5 512.2" stroke="#c6c6c6" stroke-width="1"/>
<path d="M285.1 512.5L476.4 512.5" stroke="#c6c6c6" stroke-width="1"/>
<path d="M285.1 395.5L287.5 395.5" stroke="#c6c6c6" stroke-width="1"/>
<text font-size="8.5" textLength="10.5" lengthAdjust="spacingAndGlyphs" fill="#686868" font-family='"Liberation Serif", serif' x="269.9" y="399.71">1.4</text>
<path d="M285.1 412.5L287.5 412.5" stroke="#c6c6c6" stroke-width="1"/>
<text font-size="8.5" textLength="10.5" lengthAdjust="spacingAndGlyphs" fill="#686868" font-family='"Liberation Serif", serif' x="269.9" y="416.41">1.2</text>
<path d="M285.1 428.5L287.5 428.5" stroke="#c6c6c6" stroke-width="1"/>
<text font-size="8.5" textLength="4.2" lengthAdjust="spacingAndGlyphs" fill="#686868" font-family='"Liberation Serif", serif' x="276.2" y="433">1</text>
<path d="M285.1 445.5L287.5 445.5" stroke="#c6c6c6" stroke-width="1"/>
<text font-size="8.5" textLength="10.5" lengthAdjust="spacingAndGlyphs" fill="#686868" font-family='"Liberation Serif", serif' x="269.9" y="449.71">0.8</text>
<path d="M285.1 462.5L287.5 462.5" stroke="#c6c6c6" stroke-width="1"/>
<text font-size="8.5" textLength="10.5" lengthAdjust="spacingAndGlyphs" fill="#686868" font-family='"Liberation Serif", serif' x="269.9" y="466.41">0.6</text>
<path d="M285.1 479.5L287.5 479.5" stroke="#c6c6c6" stroke-width="1"/>
<text font-size="8.5" textLength="10.5" lengthAdjust="spacingAndGlyphs" fill="#686868" font-family='"Liberation Serif", serif' x="269.9" y="483.11">0.4</text>
<path d="M285.1 495.5L287.5 495.5" stroke="#c6c6c6" stroke-width="1"/>
<text font-size="8.5" textLength="10.5" lengthAdjust="spacingAndGlyphs" fill="#686868" font-family='"Liberation Serif", serif' x="269.9" y="499.61">0.2</text>
<path d="M285.1 512.5L287.5 512.5" stroke="#c6c6c6" stroke-width="1"/>
<text font-size="8.5" textLength="4.2" lengthAdjust="spacingAndGlyphs" fill="#686868" font-family='"Liberation Serif", serif' x="276.2" y="516.3">0</text>
<path d="M285.5 512.2L285.5 510" stroke="#c6c6c6" stroke-width="1"/>
<path d="M332.5 512.2L332.5 510" stroke="#c6c6c6" stroke-width="1"/>
<path d="M380.5 512.2L380.5 510" stroke="#c6c6c6" stroke-width="1"/>
<path d="M428.5 512.2L428.5 510" stroke="#c6c6c6" stroke-width="1"/>
<path d="M476.5 512.2L476.5 510" stroke="#c6c6c6" stroke-width="1"/>
<rect x="302.5" y="450.5" width="12" height="62" fill="#000" stroke="#1a1a1a" stroke-width="0.5"/>
<path d="M308.5 447.5L308.5 450.4M306.9 447.5L310.1 447.5" stroke="#222" stroke-width="0.9" fill="none"/>
<rect x="350.5" y="433.5" width="11" height="79" fill="#000" stroke="#1a1a1a" stroke-width="0.5"/>
<path d="M356.5 432.5L356.5 433.9M354.9 432.5L358.1 432.5" stroke="#222" stroke-width="0.9" fill="none"/>
<rect x="398.5" y="422.5" width="11" height="90" fill="#000" stroke="#1a1a1a" stroke-width="0.5"/>
<path d="M403.5 413.5L403.5 422.1M401.9 413.5L405.1 413.5" stroke="#222" stroke-width="0.9" fill="none"/>
<rect x="445.5" y="449.5" width="12" height="63" fill="#000" stroke="#1a1a1a" stroke-width="0.5"/>
<path d="M451.5 445.5L451.5 449.5M449.9 445.5L453.1 445.5" stroke="#222" stroke-width="0.9" fill="none"/>
<text font-size="9" textLength="44.2" lengthAdjust="spacingAndGlyphs" fill="#686868" x="286.45" y="528.37">control group</text>
<text font-size="9" textLength="30.6" lengthAdjust="spacingAndGlyphs" fill="#686868" x="340.9" y="528.37">Met group</text>
<text font-size="9" textLength="27.2" lengthAdjust="spacingAndGlyphs" fill="#686868" x="390.25" y="528.37">Met+LiCl</text>
<text font-size="9" textLength="17" lengthAdjust="spacingAndGlyphs" fill="#686868" x="395.35" y="538.97">group</text>
<text font-size="9" textLength="44.2" lengthAdjust="spacingAndGlyphs" fill="#686868" x="429.4" y="528.37">Met+rapamycin</text>
<text font-size="9" textLength="17" lengthAdjust="spacingAndGlyphs" fill="#686868" x="443" y="538.97">group</text>
<text font-size="8.5" textLength="67.8" lengthAdjust="spacingAndGlyphs" fill="#666" transform="translate(263.6 451.7) rotate(-90)" x="-33.9" y="0">TG secretion(mM)</text>
<text font-size="15" textLength="6.4" lengthAdjust="spacingAndGlyphs" fill="#222" font-weight="bold" font-family='"Liberation Serif", serif' stroke="#222" stroke-width="0.35" x="255.4" y="406.15">F</text>
<path d="M307.5 442.5L307.5 418.5L355.5 418.5" stroke="#555" stroke-width="0.8" fill="none"/>
<path d="M355.5 429.5L355.5 398.5L403.5 398.5L403.5 413.5" stroke="#555" stroke-width="0.8" fill="none"/>
<path d="M355.5 406.5L448.5 406.5L448.5 444.5" stroke="#555" stroke-width="0.8" fill="none"/>
<path d="M327.55 410.65L327.55 413.95M326.12 411.48L328.98 413.12M328.98 411.48L326.12 413.12M330.85 410.65L330.85 413.95M329.42 411.48L332.28 413.12M332.28 411.48L329.42 413.12" stroke="#3a3a3a" stroke-width="0.8" fill="none"/>
<path d="M380.15 395.35L380.15 398.65M378.72 396.18L381.58 397.82M381.58 396.18L378.72 397.82M383.45 395.35L383.45 398.65M382.02 396.18L384.88 397.82M384.88 396.18L382.02 397.82" stroke="#3a3a3a" stroke-width="0.8" fill="none"/>
<path d="M433.1 401.55L433.1 404.85M431.67 402.38L434.53 404.03M434.53 402.38L431.67 404.03" stroke="#3a3a3a" stroke-width="0.8" fill="none"/>
</g>
<g id="panelE">
<path d="M48.5 398.4L48.5 526.3" stroke="#c6c6c6" stroke-width="1"/>
<path d="M48.8 526.5L244.8 526.5" stroke="#c6c6c6" stroke-width="1"/>
<path d="M48.8 526.5L51.4 526.5" stroke="#c6c6c6" stroke-width="1"/>
<text font-size="9" textLength="4.2" lengthAdjust="spacingAndGlyphs" fill="#686868" font-family='"Liberation Serif", serif' x="38.7" y="530.07">0</text>
<path d="M48.8 512.5L51.4 512.5" stroke="#c6c6c6" stroke-width="1"/>
<text font-size="9" textLength="8.4" lengthAdjust="spacingAndGlyphs" fill="#686868" font-family='"Liberation Serif", serif' x="34.5" y="515.86">10</text>
<path d="M48.8 497.5L51.4 497.5" stroke="#c6c6c6" stroke-width="1"/>
<text font-size="9" textLength="8.4" lengthAdjust="spacingAndGlyphs" fill="#686868" font-family='"Liberation Serif", serif' x="34.5" y="501.65">20</text>
<path d="M48.8 483.5L51.4 483.5" stroke="#c6c6c6" stroke-width="1"/>
<text font-size="9" textLength="8.4" lengthAdjust="spacingAndGlyphs" fill="#686868" font-family='"Liberation Serif", serif' x="34.5" y="487.44">30</text>
<path d="M48.8 469.5L51.4 469.5" stroke="#c6c6c6" stroke-width="1"/>
<text font-size="9" textLength="8.4" lengthAdjust="spacingAndGlyphs" fill="#686868" font-family='"Liberation Serif", serif' x="34.5" y="473.23">40</text>
<path d="M48.8 455.5L51.4 455.5" stroke="#c6c6c6" stroke-width="1"/>
<text font-size="9" textLength="8.4" lengthAdjust="spacingAndGlyphs" fill="#686868" font-family='"Liberation Serif", serif' x="34.5" y="459.02">50</text>
<path d="M48.8 441.5L51.4 441.5" stroke="#c6c6c6" stroke-width="1"/>
<text font-size="9" textLength="8.4" lengthAdjust="spacingAndGlyphs" fill="#686868" font-family='"Liberation Serif", serif' x="34.5" y="444.81">60</text>
<path d="M48.8 426.5L51.4 426.5" stroke="#c6c6c6" stroke-width="1"/>
<text font-size="9" textLength="8.4" lengthAdjust="spacingAndGlyphs" fill="#686868" font-family='"Liberation Serif", serif' x="34.5" y="430.6">70</text>
<path d="M48.8 412.5L51.4 412.5" stroke="#c6c6c6" stroke-width="1"/>
<text font-size="9" textLength="8.4" lengthAdjust="spacingAndGlyphs" fill="#686868" font-family='"Liberation Serif", serif' x="34.5" y="416.39">80</text>
<path d="M48.8 398.5L51.4 398.5" stroke="#c6c6c6" stroke-width="1"/>
<text font-size="9" textLength="8.4" lengthAdjust="spacingAndGlyphs" fill="#686868" font-family='"Liberation Serif", serif' x="34.5" y="402.18">90</text>
<path d="M48.5 526.3L48.5 523.8" stroke="#c6c6c6" stroke-width="1"/>
<path d="M114.5 526.3L114.5 523.8" stroke="#c6c6c6" stroke-width="1"/>
<path d="M179.5 526.3L179.5 523.8" stroke="#c6c6c6" stroke-width="1"/>
<path d="M244.5 526.3L244.5 523.8" stroke="#c6c6c6" stroke-width="1"/>
<text font-size="14.5" textLength="7.6" lengthAdjust="spacingAndGlyphs" fill="#222" font-family='"Liberation Serif", serif' x="18.6" y="409.09">E</text>
<text font-size="8.5" textLength="88.2" lengthAdjust="spacingAndGlyphs" fill="#666" transform="translate(26.4 462.6) rotate(-90)" x="-44.1" y="0">percentage cells(%)</text>
<rect x="63.5" y="423.5" width="9" height="103" fill="#fff" stroke="#1a1a1a" stroke-width="0.8"/>
<rect x="72.5" y="437.5" width="9" height="89" fill="#c0c0c0" stroke="#1a1a1a" stroke-width="0.8"/>
<rect x="81.5" y="447.5" width="9" height="79" fill="#000" stroke="#1a1a1a" stroke-width="0.8"/>
<rect x="90.5" y="425.5" width="9" height="101" fill="#fff"/>
<rect x="90.5" y="425.5" width="9" height="101" fill="none" stroke="#1a1a1a" stroke-width="0.8"/>
<path d="M68.5 416.5L68.5 429.5M66 416.5L71 416.5M66 429.5L71 429.5" stroke="#222" stroke-width="0.9" fill="none"/>
<path d="M77.5 434.5L77.5 440.5M75 434.5L80 434.5M75 440.5L80 440.5" stroke="#222" stroke-width="0.9" fill="none"/>
<path d="M85.5 444.5L85.5 447.9M83 444.5L88 444.5" stroke="#222" stroke-width="0.9" fill="none"/>
<path d="M94.5 421.5L94.5 428.5M92 421.5L97 421.5M92 428.5L97 428.5" stroke="#222" stroke-width="0.9" fill="none"/>
<text font-size="9.5" textLength="42.6" lengthAdjust="spacingAndGlyphs" x="59.8" y="543.13">G1/S phase</text>
<rect x="128.5" y="493.5" width="9" height="33" fill="#fff" stroke="#1a1a1a" stroke-width="0.8"/>
<rect x="137.5" y="480.5" width="9" height="46" fill="#c0c0c0" stroke="#1a1a1a" stroke-width="0.8"/>
<rect x="146.5" y="468.5" width="9" height="58" fill="#000" stroke="#1a1a1a" stroke-width="0.8"/>
<rect x="155.5" y="491.5" width="9" height="35" fill="#fff"/>
<rect x="155.5" y="491.5" width="9" height="35" fill="none" stroke="#1a1a1a" stroke-width="0.8"/>
<path d="M133.5 489.5L133.5 497.5M131 489.5L136 489.5M131 497.5L136 497.5" stroke="#222" stroke-width="0.9" fill="none"/>
<path d="M142.5 477.5L142.5 483.5M140 477.5L145 477.5M140 483.5L145 483.5" stroke="#222" stroke-width="0.9" fill="none"/>
<path d="M150.5 462.5L150.5 468M148 462.5L153 462.5" stroke="#222" stroke-width="0.9" fill="none"/>
<path d="M159.5 489.5L159.5 493.5M157 489.5L162 489.5M157 493.5L162 493.5" stroke="#222" stroke-width="0.9" fill="none"/>
<text font-size="9.5" textLength="28.8" lengthAdjust="spacingAndGlyphs" x="131.9" y="543.13">S phase</text>
<rect x="194.5" y="519.5" width="9" height="7" fill="#fff" stroke="#1a1a1a" stroke-width="0.8"/>
<rect x="203.5" y="519.5" width="8" height="7" fill="#c0c0c0" stroke="#1a1a1a" stroke-width="0.8"/>
<rect x="211.5" y="519.5" width="9" height="7" fill="#000" stroke="#1a1a1a" stroke-width="0.8"/>
<rect x="220.5" y="519.5" width="9" height="7" fill="#fff"/>
<rect x="220.5" y="519.5" width="9" height="7" fill="none" stroke="#1a1a1a" stroke-width="0.8"/>
<path d="M198.5 515.5L198.5 523.5M196 515.5L201 515.5M196 523.5L201 523.5" stroke="#222" stroke-width="0.9" fill="none"/>
<path d="M207.5 517.5L207.5 521.5M205 517.5L210 517.5M205 521.5L210 521.5" stroke="#222" stroke-width="0.9" fill="none"/>
<path d="M216.5 517.5L216.5 519.6M214 517.5L219 517.5" stroke="#222" stroke-width="0.9" fill="none"/>
<path d="M225.5 518.5L225.5 521.5M223 518.5L228 518.5M223 521.5L228 521.5" stroke="#222" stroke-width="0.9" fill="none"/>
<text font-size="9.5" textLength="42" lengthAdjust="spacingAndGlyphs" x="190.3" y="543.13">G2/M phase</text>
<path d="M67.5 413.5L67.5 402.5L75.5 402.5L75.5 430.5" stroke="#484848" stroke-width="0.9" fill="none"/>
<path d="M77.5 413.5L77.5 408.5L84.5 408.5L84.5 443.5" stroke="#484848" stroke-width="0.9" fill="none"/>
<path d="M77.5 413.5L94.5 413.5L94.5 420.5" stroke="#484848" stroke-width="0.9" fill="none"/>
<path d="M71.1 396.35L71.1 400.85M69.15 397.48L73.05 399.73M73.05 397.48L69.15 399.73" stroke="#464646" stroke-width="0.9" fill="none"/>
<path d="M79.75 399.55L79.75 404.05M77.8 400.68L81.7 402.93M81.7 400.68L77.8 402.93M84.25 399.55L84.25 404.05M82.3 400.68L86.2 402.93M86.2 400.68L82.3 402.93" stroke="#464646" stroke-width="0.9" fill="none"/>
<path d="M92 406.95L92 411.45M90.05 408.08L93.95 410.33M93.95 408.08L90.05 410.33" stroke="#464646" stroke-width="0.9" fill="none"/>
<path d="M132.5 485.5L132.5 467.5L141.5 467.5" stroke="#484848" stroke-width="0.9" fill="none"/>
<path d="M141.5 476.5L141.5 446.5L152.5 446.5L152.5 462.5" stroke="#484848" stroke-width="0.9" fill="none"/>
<path d="M141.5 455.5L163.5 455.5L163.5 485.5" stroke="#484848" stroke-width="0.9" fill="none"/>
<path d="M145.15 439.75L145.15 444.25M143.2 440.88L147.1 443.12M147.1 440.88L143.2 443.12M149.65 439.75L149.65 444.25M147.7 440.88L151.6 443.12M151.6 440.88L147.7 443.12" stroke="#464646" stroke-width="0.9" fill="none"/>
<path d="M159.3 447.95L159.3 452.45M157.35 449.08L161.25 451.33M161.25 449.08L157.35 451.33" stroke="#464646" stroke-width="0.9" fill="none"/>
<path d="M138 460.15L138 464.65M136.05 461.28L139.95 463.53M139.95 461.28L136.05 463.53" stroke="#464646" stroke-width="0.9" fill="none"/>
<rect x="154.5" y="391.7" width="90.7" height="43.3" fill="#fff" stroke="#c4c4c4" stroke-width="0.9"/>
<rect x="162.5" y="395.5" width="4" height="5" fill="#fff" stroke="#1a1a1a" stroke-width="0.8"/>
<text font-size="7.8" textLength="48.1" lengthAdjust="spacingAndGlyphs" fill="#686868" x="168.5" y="400.67">control group</text>
<rect x="162.5" y="406.5" width="4" height="4" fill="#c0c0c0" stroke="#1a1a1a" stroke-width="0.8"/>
<text font-size="7.8" textLength="33.3" lengthAdjust="spacingAndGlyphs" fill="#686868" x="168.5" y="411.07">Met group</text>
<rect x="162.5" y="416.5" width="4" height="5" fill="#000" stroke="#1a1a1a" stroke-width="0.8"/>
<text font-size="7.8" textLength="51.8" lengthAdjust="spacingAndGlyphs" fill="#686868" x="168.5" y="421.67">Met+LiCl group</text>
<rect x="162.5" y="427.5" width="4" height="4" fill="#fff"/>
<rect x="162.5" y="427.5" width="4" height="4" fill="none" stroke="#1a1a1a" stroke-width="0.8"/>
<text font-size="7.8" textLength="70.49" lengthAdjust="spacingAndGlyphs" fill="#686868" x="168.5" y="432.27">Met+rapamycin group</text>
</g>
</svg>
<svg id="over" width="493" height="550" viewBox="0 0 493 550">
<clipPath id="hc1"><rect x="65.5" y="128.5" width="7" height="81"/></clipPath>
<path d="M-20.7 127.5L62.3 210.5M-18.1 127.5L64.9 210.5M-15.5 127.5L67.5 210.5M-12.9 127.5L70.1 210.5M-10.3 127.5L72.7 210.5M-7.7 127.5L75.3 210.5M-5.1 127.5L77.9 210.5M-2.5 127.5L80.5 210.5M0.1 127.5L83.1 210.5M2.7 127.5L85.7 210.5M5.3 127.5L88.3 210.5M7.9 127.5L90.9 210.5M10.5 127.5L93.5 210.5M13.1 127.5L96.1 210.5M15.7 127.5L98.7 210.5M18.3 127.5L101.3 210.5M20.9 127.5L103.9 210.5M23.5 127.5L106.5 210.5M26.1 127.5L109.1 210.5M28.7 127.5L111.7 210.5M31.3 127.5L114.3 210.5M33.9 127.5L116.9 210.5M36.5 127.5L119.5 210.5M39.1 127.5L122.1 210.5M41.7 127.5L124.7 210.5M44.3 127.5L127.3 210.5M46.9 127.5L129.9 210.5M49.5 127.5L132.5 210.5M52.1 127.5L135.1 210.5M54.7 127.5L137.7 210.5M57.3 127.5L140.3 210.5M59.9 127.5L142.9 210.5M62.5 127.5L145.5 210.5M65.1 127.5L148.1 210.5M67.7 127.5L150.7 210.5M70.3 127.5L153.3 210.5M72.9 127.5L155.9 210.5M75.5 127.5L158.5 210.5" clip-path="url(#hc1)" stroke="#000" stroke-width="0.75" fill="none"/>
<clipPath id="hc2"><rect x="105.5" y="106.5" width="8" height="103"/></clipPath>
<path d="M-1.1 105.5L103.9 210.5M1.5 105.5L106.5 210.5M4.1 105.5L109.1 210.5M6.7 105.5L111.7 210.5M9.3 105.5L114.3 210.5M11.9 105.5L116.9 210.5M14.5 105.5L119.5 210.5M17.1 105.5L122.1 210.5M19.7 105.5L124.7 210.5M22.3 105.5L127.3 210.5M24.9 105.5L129.9 210.5M27.5 105.5L132.5 210.5M30.1 105.5L135.1 210.5M32.7 105.5L137.7 210.5M35.3 105.5L140.3 210.5M37.9 105.5L142.9 210.5M40.5 105.5L145.5 210.5M43.1 105.5L148.1 210.5M45.7 105.5L150.7 210.5M48.3 105.5L153.3 210.5M50.9 105.5L155.9 210.5M53.5 105.5L158.5 210.5M56.1 105.5L161.1 210.5M58.7 105.5L163.7 210.5M61.3 105.5L166.3 210.5M63.9 105.5L168.9 210.5M66.5 105.5L171.5 210.5M69.1 105.5L174.1 210.5M71.7 105.5L176.7 210.5M74.3 105.5L179.3 210.5M76.9 105.5L181.9 210.5M79.5 105.5L184.5 210.5M82.1 105.5L187.1 210.5M84.7 105.5L189.7 210.5M87.3 105.5L192.3 210.5M89.9 105.5L194.9 210.5M92.5 105.5L197.5 210.5M95.1 105.5L200.1 210.5M97.7 105.5L202.7 210.5M100.3 105.5L205.3 210.5M102.9 105.5L207.9 210.5M105.5 105.5L210.5 210.5M108.1 105.5L213.1 210.5M110.7 105.5L215.7 210.5M113.3 105.5L218.3 210.5M115.9 105.5L220.9 210.5" clip-path="url(#hc2)" stroke="#000" stroke-width="0.75" fill="none"/>
<clipPath id="hc3"><rect x="146.5" y="118.5" width="7" height="91"/></clipPath>
<path d="M49.9 117.5L142.9 210.5M52.5 117.5L145.5 210.5M55.1 117.5L148.1 210.5M57.7 117.5L150.7 210.5M60.3 117.5L153.3 210.5M62.9 117.5L155.9 210.5M65.5 117.5L158.5 210.5M68.1 117.5L161.1 210.5M70.7 117.5L163.7 210.5M73.3 117.5L166.3 210.5M75.9 117.5L168.9 210.5M78.5 117.5L171.5 210.5M81.1 117.5L174.1 210.5M83.7 117.5L176.7 210.5M86.3 117.5L179.3 210.5M88.9 117.5L181.9 210.5M91.5 117.5L184.5 210.5M94.1 117.5L187.1 210.5M96.7 117.5L189.7 210.5M99.3 117.5L192.3 210.5M101.9 117.5L194.9 210.5M104.5 117.5L197.5 210.5M107.1 117.5L200.1 210.5M109.7 117.5L202.7 210.5M112.3 117.5L205.3 210.5M114.9 117.5L207.9 210.5M117.5 117.5L210.5 210.5M120.1 117.5L213.1 210.5M122.7 117.5L215.7 210.5M125.3 117.5L218.3 210.5M127.9 117.5L220.9 210.5M130.5 117.5L223.5 210.5M133.1 117.5L226.1 210.5M135.7 117.5L228.7 210.5M138.3 117.5L231.3 210.5M140.9 117.5L233.9 210.5M143.5 117.5L236.5 210.5M146.1 117.5L239.1 210.5M148.7 117.5L241.7 210.5M151.3 117.5L244.3 210.5M153.9 117.5L246.9 210.5M156.5 117.5L249.5 210.5" clip-path="url(#hc3)" stroke="#000" stroke-width="0.75" fill="none"/>
<clipPath id="hc4"><rect x="186.5" y="135.5" width="7" height="74"/></clipPath>
<path d="M108.5 134.5L184.5 210.5M111.1 134.5L187.1 210.5M113.7 134.5L189.7 210.5M116.3 134.5L192.3 210.5M118.9 134.5L194.9 210.5M121.5 134.5L197.5 210.5M124.1 134.5L200.1 210.5M126.7 134.5L202.7 210.5M129.3 134.5L205.3 210.5M131.9 134.5L207.9 210.5M134.5 134.5L210.5 210.5M137.1 134.5L213.1 210.5M139.7 134.5L215.7 210.5M142.3 134.5L218.3 210.5M144.9 134.5L220.9 210.5M147.5 134.5L223.5 210.5M150.1 134.5L226.1 210.5M152.7 134.5L228.7 210.5M155.3 134.5L231.3 210.5M157.9 134.5L233.9 210.5M160.5 134.5L236.5 210.5M163.1 134.5L239.1 210.5M165.7 134.5L241.7 210.5M168.3 134.5L244.3 210.5M170.9 134.5L246.9 210.5M173.5 134.5L249.5 210.5M176.1 134.5L252.1 210.5M178.7 134.5L254.7 210.5M181.3 134.5L257.3 210.5M183.9 134.5L259.9 210.5M186.5 134.5L262.5 210.5M189.1 134.5L265.1 210.5M191.7 134.5L267.7 210.5M194.3 134.5L270.3 210.5M196.9 134.5L272.9 210.5" clip-path="url(#hc4)" stroke="#000" stroke-width="0.75" fill="none"/>
<clipPath id="hc5"><rect x="226.5" y="101.5" width="8" height="108"/></clipPath>
<path d="M113.5 100.5L223.5 210.5M116.1 100.5L226.1 210.5M118.7 100.5L228.7 210.5M121.3 100.5L231.3 210.5M123.9 100.5L233.9 210.5M126.5 100.5L236.5 210.5M129.1 100.5L239.1 210.5M131.7 100.5L241.7 210.5M134.3 100.5L244.3 210.5M136.9 100.5L246.9 210.5M139.5 100.5L249.5 210.5M142.1 100.5L252.1 210.5M144.7 100.5L254.7 210.5M147.3 100.5L257.3 210.5M149.9 100.5L259.9 210.5M152.5 100.5L262.5 210.5M155.1 100.5L265.1 210.5M157.7 100.5L267.7 210.5M160.3 100.5L270.3 210.5M162.9 100.5L272.9 210.5M165.5 100.5L275.5 210.5M168.1 100.5L278.1 210.5M170.7 100.5L280.7 210.5M173.3 100.5L283.3 210.5M175.9 100.5L285.9 210.5M178.5 100.5L288.5 210.5M181.1 100.5L291.1 210.5M183.7 100.5L293.7 210.5M186.3 100.5L296.3 210.5M188.9 100.5L298.9 210.5M191.5 100.5L301.5 210.5M194.1 100.5L304.1 210.5M196.7 100.5L306.7 210.5M199.3 100.5L309.3 210.5M201.9 100.5L311.9 210.5M204.5 100.5L314.5 210.5M207.1 100.5L317.1 210.5M209.7 100.5L319.7 210.5M212.3 100.5L322.3 210.5M214.9 100.5L324.9 210.5M217.5 100.5L327.5 210.5M220.1 100.5L330.1 210.5M222.7 100.5L332.7 210.5M225.3 100.5L335.3 210.5M227.9 100.5L337.9 210.5M230.5 100.5L340.5 210.5M233.1 100.5L343.1 210.5M235.7 100.5L345.7 210.5M238.3 100.5L348.3 210.5" clip-path="url(#hc5)" stroke="#000" stroke-width="0.75" fill="none"/>
<clipPath id="hc6"><rect x="267.5" y="129.5" width="7" height="80"/></clipPath>
<path d="M183.1 128.5L265.1 210.5M185.7 128.5L267.7 210.5M188.3 128.5L270.3 210.5M190.9 128.5L272.9 210.5M193.5 128.5L275.5 210.5M196.1 128.5L278.1 210.5M198.7 128.5L280.7 210.5M201.3 128.5L283.3 210.5M203.9 128.5L285.9 210.5M206.5 128.5L288.5 210.5M209.1 128.5L291.1 210.5M211.7 128.5L293.7 210.5M214.3 128.5L296.3 210.5M216.9 128.5L298.9 210.5M219.5 128.5L301.5 210.5M222.1 128.5L304.1 210.5M224.7 128.5L306.7 210.5M227.3 128.5L309.3 210.5M229.9 128.5L311.9 210.5M232.5 128.5L314.5 210.5M235.1 128.5L317.1 210.5M237.7 128.5L319.7 210.5M240.3 128.5L322.3 210.5M242.9 128.5L324.9 210.5M245.5 128.5L327.5 210.5M248.1 128.5L330.1 210.5M250.7 128.5L332.7 210.5M253.3 128.5L335.3 210.5M255.9 128.5L337.9 210.5M258.5 128.5L340.5 210.5M261.1 128.5L343.1 210.5M263.7 128.5L345.7 210.5M266.3 128.5L348.3 210.5M268.9 128.5L350.9 210.5M271.5 128.5L353.5 210.5M274.1 128.5L356.1 210.5M276.7 128.5L358.7 210.5" clip-path="url(#hc6)" stroke="#000" stroke-width="0.75" fill="none"/>
<clipPath id="hc7"><rect x="307.5" y="113.5" width="8" height="96"/></clipPath>
<path d="M206.1 112.5L304.1 210.5M208.7 112.5L306.7 210.5M211.3 112.5L309.3 210.5M213.9 112.5L311.9 210.5M216.5 112.5L314.5 210.5M219.1 112.5L317.1 210.5M221.7 112.5L319.7 210.5M224.3 112.5L322.3 210.5M226.9 112.5L324.9 210.5M229.5 112.5L327.5 210.5M232.1 112.5L330.1 210.5M234.7 112.5L332.7 210.5M237.3 112.5L335.3 210.5M239.9 112.5L337.9 210.5M242.5 112.5L340.5 210.5M245.1 112.5L343.1 210.5M247.7 112.5L345.7 210.5M250.3 112.5L348.3 210.5M252.9 112.5L350.9 210.5M255.5 112.5L353.5 210.5M258.1 112.5L356.1 210.5M260.7 112.5L358.7 210.5M263.3 112.5L361.3 210.5M265.9 112.5L363.9 210.5M268.5 112.5L366.5 210.5M271.1 112.5L369.1 210.5M273.7 112.5L371.7 210.5M276.3 112.5L374.3 210.5M278.9 112.5L376.9 210.5M281.5 112.5L379.5 210.5M284.1 112.5L382.1 210.5M286.7 112.5L384.7 210.5M289.3 112.5L387.3 210.5M291.9 112.5L389.9 210.5M294.5 112.5L392.5 210.5M297.1 112.5L395.1 210.5M299.7 112.5L397.7 210.5M302.3 112.5L400.3 210.5M304.9 112.5L402.9 210.5M307.5 112.5L405.5 210.5M310.1 112.5L408.1 210.5M312.7 112.5L410.7 210.5M315.3 112.5L413.3 210.5M317.9 112.5L415.9 210.5" clip-path="url(#hc7)" stroke="#000" stroke-width="0.75" fill="none"/>
<clipPath id="hc8"><rect x="347.5" y="153.5" width="8" height="56"/></clipPath>
<path d="M287.7 152.5L345.7 210.5M290.3 152.5L348.3 210.5M292.9 152.5L350.9 210.5M295.5 152.5L353.5 210.5M298.1 152.5L356.1 210.5M300.7 152.5L358.7 210.5M303.3 152.5L361.3 210.5M305.9 152.5L363.9 210.5M308.5 152.5L366.5 210.5M311.1 152.5L369.1 210.5M313.7 152.5L371.7 210.5M316.3 152.5L374.3 210.5M318.9 152.5L376.9 210.5M321.5 152.5L379.5 210.5M324.1 152.5L382.1 210.5M326.7 152.5L384.7 210.5M329.3 152.5L387.3 210.5M331.9 152.5L389.9 210.5M334.5 152.5L392.5 210.5M337.1 152.5L395.1 210.5M339.7 152.5L397.7 210.5M342.3 152.5L400.3 210.5M344.9 152.5L402.9 210.5M347.5 152.5L405.5 210.5M350.1 152.5L408.1 210.5M352.7 152.5L410.7 210.5M355.3 152.5L413.3 210.5M357.9 152.5L415.9 210.5" clip-path="url(#hc8)" stroke="#000" stroke-width="0.75" fill="none"/>
<clipPath id="hc9"><rect x="388.5" y="165.5" width="7" height="44"/></clipPath>
<path d="M338.7 164.5L384.7 210.5M341.3 164.5L387.3 210.5M343.9 164.5L389.9 210.5M346.5 164.5L392.5 210.5M349.1 164.5L395.1 210.5M351.7 164.5L397.7 210.5M354.3 164.5L400.3 210.5M356.9 164.5L402.9 210.5M359.5 164.5L405.5 210.5M362.1 164.5L408.1 210.5M364.7 164.5L410.7 210.5M367.3 164.5L413.3 210.5M369.9 164.5L415.9 210.5M372.5 164.5L418.5 210.5M375.1 164.5L421.1 210.5M377.7 164.5L423.7 210.5M380.3 164.5L426.3 210.5M382.9 164.5L428.9 210.5M385.5 164.5L431.5 210.5M388.1 164.5L434.1 210.5M390.7 164.5L436.7 210.5M393.3 164.5L439.3 210.5M395.9 164.5L441.9 210.5M398.5 164.5L444.5 210.5" clip-path="url(#hc9)" stroke="#000" stroke-width="0.75" fill="none"/>
<clipPath id="hc10"><rect x="428.5" y="122.5" width="8" height="87"/></clipPath>
<path d="M337.3 121.5L426.3 210.5M339.9 121.5L428.9 210.5M342.5 121.5L431.5 210.5M345.1 121.5L434.1 210.5M347.7 121.5L436.7 210.5M350.3 121.5L439.3 210.5M352.9 121.5L441.9 210.5M355.5 121.5L444.5 210.5M358.1 121.5L447.1 210.5M360.7 121.5L449.7 210.5M363.3 121.5L452.3 210.5M365.9 121.5L454.9 210.5M368.5 121.5L457.5 210.5M371.1 121.5L460.1 210.5M373.7 121.5L462.7 210.5M376.3 121.5L465.3 210.5M378.9 121.5L467.9 210.5M381.5 121.5L470.5 210.5M384.1 121.5L473.1 210.5M386.7 121.5L475.7 210.5M389.3 121.5L478.3 210.5M391.9 121.5L480.9 210.5M394.5 121.5L483.5 210.5M397.1 121.5L486.1 210.5M399.7 121.5L488.7 210.5M402.3 121.5L491.3 210.5M404.9 121.5L493.9 210.5M407.5 121.5L496.5 210.5M410.1 121.5L499.1 210.5M412.7 121.5L501.7 210.5M415.3 121.5L504.3 210.5M417.9 121.5L506.9 210.5M420.5 121.5L509.5 210.5M423.1 121.5L512.1 210.5M425.7 121.5L514.7 210.5M428.3 121.5L517.3 210.5M430.9 121.5L519.9 210.5M433.5 121.5L522.5 210.5M436.1 121.5L525.1 210.5M438.7 121.5L527.7 210.5" clip-path="url(#hc10)" stroke="#000" stroke-width="0.75" fill="none"/>
<clipPath id="hc11"><rect x="468.5" y="181.5" width="8" height="28"/></clipPath>
<path d="M435.3 180.5L465.3 210.5M437.9 180.5L467.9 210.5M440.5 180.5L470.5 210.5M443.1 180.5L473.1 210.5M445.7 180.5L475.7 210.5M448.3 180.5L478.3 210.5M450.9 180.5L480.9 210.5M453.5 180.5L483.5 210.5M456.1 180.5L486.1 210.5M458.7 180.5L488.7 210.5M461.3 180.5L491.3 210.5M463.9 180.5L493.9 210.5M466.5 180.5L496.5 210.5M469.1 180.5L499.1 210.5M471.7 180.5L501.7 210.5M474.3 180.5L504.3 210.5M476.9 180.5L506.9 210.5M479.5 180.5L509.5 210.5" clip-path="url(#hc11)" stroke="#000" stroke-width="0.75" fill="none"/>
<clipPath id="hc12"><rect x="381.5" y="20.5" width="6" height="6"/></clipPath>
<path d="M370.5 19.5L378.5 27.5M373.1 19.5L381.1 27.5M375.7 19.5L383.7 27.5M378.3 19.5L386.3 27.5M380.9 19.5L388.9 27.5M383.5 19.5L391.5 27.5M386.1 19.5L394.1 27.5M388.7 19.5L396.7 27.5M391.3 19.5L399.3 27.5" clip-path="url(#hc12)" stroke="#000" stroke-width="0.75" fill="none"/>
<clipPath id="hc13"><rect x="90.5" y="425.5" width="9" height="101"/></clipPath>
<path d="M-14.9 424.5L88.1 527.5M-12.3 424.5L90.7 527.5M-9.7 424.5L93.3 527.5M-7.1 424.5L95.9 527.5M-4.5 424.5L98.5 527.5M-1.9 424.5L101.1 527.5M0.7 424.5L103.7 527.5M3.3 424.5L106.3 527.5M5.9 424.5L108.9 527.5M8.5 424.5L111.5 527.5M11.1 424.5L114.1 527.5M13.7 424.5L116.7 527.5M16.3 424.5L119.3 527.5M18.9 424.5L121.9 527.5M21.5 424.5L124.5 527.5M24.1 424.5L127.1 527.5M26.7 424.5L129.7 527.5M29.3 424.5L132.3 527.5M31.9 424.5L134.9 527.5M34.5 424.5L137.5 527.5M37.1 424.5L140.1 527.5M39.7 424.5L142.7 527.5M42.3 424.5L145.3 527.5M44.9 424.5L147.9 527.5M47.5 424.5L150.5 527.5M50.1 424.5L153.1 527.5M52.7 424.5L155.7 527.5M55.3 424.5L158.3 527.5M57.9 424.5L160.9 527.5M60.5 424.5L163.5 527.5M63.1 424.5L166.1 527.5M65.7 424.5L168.7 527.5M68.3 424.5L171.3 527.5M70.9 424.5L173.9 527.5M73.5 424.5L176.5 527.5M76.1 424.5L179.1 527.5M78.7 424.5L181.7 527.5M81.3 424.5L184.3 527.5M83.9 424.5L186.9 527.5M86.5 424.5L189.5 527.5M89.1 424.5L192.1 527.5M91.7 424.5L194.7 527.5M94.3 424.5L197.3 527.5M96.9 424.5L199.9 527.5M99.5 424.5L202.5 527.5M102.1 424.5L205.1 527.5" clip-path="url(#hc13)" stroke="#000" stroke-width="0.75" fill="none"/>
<clipPath id="hc14"><rect x="155.5" y="491.5" width="9" height="35"/></clipPath>
<path d="M116.1 490.5L153.1 527.5M118.7 490.5L155.7 527.5M121.3 490.5L158.3 527.5M123.9 490.5L160.9 527.5M126.5 490.5L163.5 527.5M129.1 490.5L166.1 527.5M131.7 490.5L168.7 527.5M134.3 490.5L171.3 527.5M136.9 490.5L173.9 527.5M139.5 490.5L176.5 527.5M142.1 490.5L179.1 527.5M144.7 490.5L181.7 527.5M147.3 490.5L184.3 527.5M149.9 490.5L186.9 527.5M152.5 490.5L189.5 527.5M155.1 490.5L192.1 527.5M157.7 490.5L194.7 527.5M160.3 490.5L197.3 527.5M162.9 490.5L199.9 527.5M165.5 490.5L202.5 527.5M168.1 490.5L205.1 527.5" clip-path="url(#hc14)" stroke="#000" stroke-width="0.75" fill="none"/>
<clipPath id="hc15"><rect x="220.5" y="519.5" width="9" height="7"/></clipPath>
<path d="M209.1 518.5L218.1 527.5M211.7 518.5L220.7 527.5M214.3 518.5L223.3 527.5M216.9 518.5L225.9 527.5M219.5 518.5L228.5 527.5M222.1 518.5L231.1 527.5M224.7 518.5L233.7 527.5M227.3 518.5L236.3 527.5M229.9 518.5L238.9 527.5M232.5 518.5L241.5 527.5" clip-path="url(#hc15)" stroke="#000" stroke-width="0.75" fill="none"/>
<clipPath id="hc16"><rect x="162.5" y="427.5" width="4" height="4"/></clipPath>
<path d="M153.5 426.5L159.5 432.5M156.1 426.5L162.1 432.5M158.7 426.5L164.7 432.5M161.3 426.5L167.3 432.5M163.9 426.5L169.9 432.5M166.5 426.5L172.5 432.5M169.1 426.5L175.1 432.5" clip-path="url(#hc16)" stroke="#000" stroke-width="0.75" fill="none"/>
</svg></body></html>
